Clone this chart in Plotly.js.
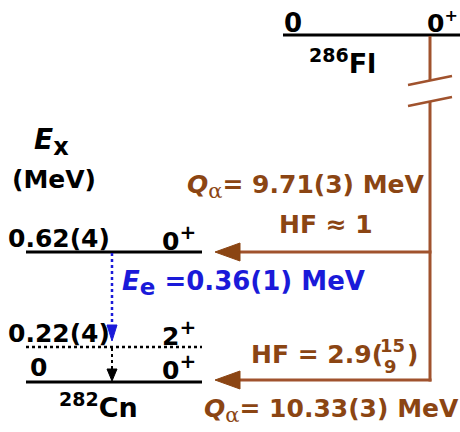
<!DOCTYPE html>
<html>
<head>
<meta charset="utf-8">
<script src="https://cdn.plot.ly/plotly-3.0.1.min.js"></script>
<style>html,body{margin:0;padding:0;background:#fff;}</style>
</head>
<body>
<div id="chart" style="width:460px;height:432px;"></div>
<script>
// ---- data ----
const parentNucleus = {mass: '286', symbol: 'Fl'};
const daughterNucleus = {mass: '282', symbol: 'Cn'};
const parentLevelLabel = '0';
const parentLevelSpin = '0';
const parentLevelParity = '+';
const levelEnergyLabels = ['0.62(4)', '0.22(4)', '0'];
const levelSpins = ['0', '2', '0'];
const levelParity = ['+', '+', '+'];
const qAlphaValues = ['9.71(3)', '10.33(3)'];
const hfTexts = ['HF \u2248 1', 'HF = 2.9('];
const hfErrUp = '15';
const hfErrDown = '9';
const conversionEnergy = '0.36(1)';
const axisLabel = ['E', 'x', '(MeV)'];

// ---- layout positions (diagram, not to scale) ----
const levelY = [252, 347, 382];
const levelX = [26, 202];
const parentY = 35;
const parentX = [283, 460];
const decayX = 430;
const arrowTipX = 215;
const arrowY = [252, 380];
const gammaX = 112;

const BROWN = '#8B4513';
const BROWN_LINE = '#A0522D';
const BLUE = '#1a1ad9';
const FONT = 'DejaVu Sans';
const FS = 25;

const traces = [];
function line(x, y, color, width, dash) {
  traces.push({type: 'scatter', mode: 'lines', x: x, y: y, hoverinfo: 'skip',
    line: {color: color, width: width, dash: dash || 'solid'}, showlegend: false});
}
function tri(x, y, color) {
  traces.push({type: 'scatter', mode: 'lines', x: x, y: y, fill: 'toself', fillcolor: color,
    line: {color: color, width: 1}, hoverinfo: 'skip', showlegend: false});
}

// parent level
line(parentX, [parentY, parentY], 'black', 3);
// daughter levels
levelY.forEach((y, i) => {
  line(levelX, [y, y], 'black', i === 1 ? 2.5 : 3, i === 1 ? '3px,3px' : 'solid');
});
// alpha decay vertical with break
line([decayX, decayX, null, decayX, decayX], [parentY + 1, 80.5, null, 101.5, arrowY[1] + 1.5], BROWN_LINE, 3);
line([decayX - 22, decayX + 22, null, decayX - 22, decayX + 22], [85, 76, null, 106, 97], BROWN_LINE, 2.5);
// alpha branches
arrowY.forEach(y => {
  line([arrowTipX + 22, decayX + 1.5], [y, y], BROWN_LINE, 3);
  tri([arrowTipX, arrowTipX + 25, arrowTipX + 25, arrowTipX], [y, y - 9, y + 9, y], BROWN);
});
// conversion electron (blue dotted) arrow
line([gammaX, gammaX], [levelY[0] + 1, levelY[1] - 20], BLUE, 2.5, '3px,3px');
tri([gammaX - 5, gammaX + 5, gammaX, gammaX - 5], [levelY[1] - 22, levelY[1] - 22, levelY[1] - 6, levelY[1] - 22], BLUE);
// 2+ -> 0+ dashed arrow
line([gammaX, gammaX], [levelY[1] + 1, levelY[2] - 13], 'black', 2, '3px,3px');
tri([gammaX - 5, gammaX + 5, gammaX, gammaX - 5], [levelY[2] - 13, levelY[2] - 13, levelY[2] - 1, levelY[2] - 13], 'black');

// ---- text ----
const ann = [];
function txt(x, y, text, color, size) {
  const s = size || FS;
  ann.push({x: x, y: y, xref: 'x', yref: 'y', text: text, showarrow: false,
    xanchor: 'left', yanchor: 'middle',
    font: {family: FONT, size: s, color: color || 'black', weight: 'bold'}});
}
const alpha = '<sub><span style="font-family:\'DejaVu Serif\';font-weight:normal;font-size:21px">\u03b1</span></sub>';
const bigSup = t => '<sup><span style="font-size:20px">' + t + '</span></sup>';

txt(282, 23, parentLevelLabel, 'black', 26);
txt(425, 22, parentLevelSpin + '<sup><span style="font-size:16px">' + parentLevelParity + '</span></sup>', 'black', 25);
txt(307, 61, '<sup><span style="font-size:19px">' + parentNucleus.mass + '</span></sup>' + parentNucleus.symbol, 'black', 27);
txt(32, 142, '<i>' + axisLabel[0] + '</i><sub><span style="font-size:24px">' + axisLabel[1] + '</span></sub>', 'black', 28);
txt(10, 179, axisLabel[2]);
const lblX = [6, 6, 28];
const lblY = [238, 333, 367];
levelEnergyLabels.forEach((l, i) => {
  txt(lblX[i], lblY[i], l);
  txt(160, lblY[i], levelSpins[i] + bigSup(levelParity[i]));
});
txt(57, 405, '<sup><span style="font-size:19px">' + daughterNucleus.mass + '</span></sup>' + daughterNucleus.symbol, 'black', 27);
txt(120, 283, '<i>E</i><sub><span style="font-size:23px">e</span></sub> =' + conversionEnergy + ' MeV', BLUE, 26);
txt(185, 186, '<i>Q</i>' + alpha + '= ' + qAlphaValues[0] + ' MeV', BROWN);
txt(277, 224, hfTexts[0], BROWN);
txt(249, 354, hfTexts[1], BROWN);
txt(378, 345, hfErrUp, BROWN, 18);
txt(382, 366, hfErrDown, BROWN, 18);
txt(405, 354, ')', BROWN);
txt(202, 410, '<i>Q</i>' + alpha + '= ' + qAlphaValues[1] + ' MeV', BROWN);

const layout = {
  width: 460, height: 432,
  margin: {l: 0, r: 0, t: 0, b: 0},
  paper_bgcolor: 'white', plot_bgcolor: 'white',
  xaxis: {range: [0, 460], visible: false, fixedrange: true},
  yaxis: {range: [432, 0], visible: false, fixedrange: true},
  annotations: ann,
  showlegend: false
};
Plotly.newPlot('chart', traces, layout, {displayModeBar: false, staticPlot: true});
</script>
</body>
</html>
